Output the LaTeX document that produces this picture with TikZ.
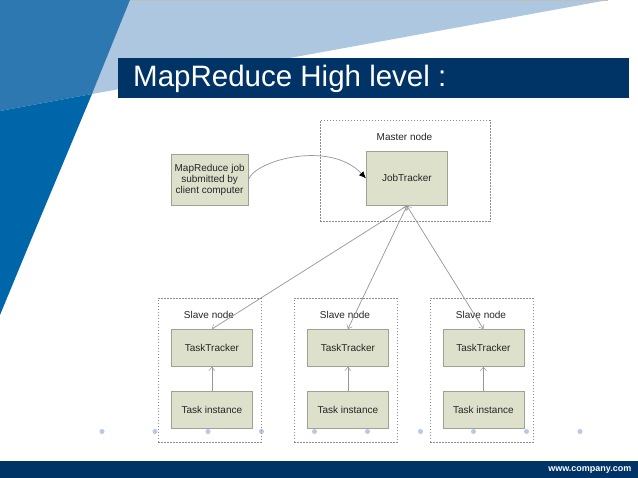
\documentclass[tikz,border=0pt]{standalone}
\usepackage{fontspec}
\setmainfont{Liberation Sans}
\usetikzlibrary{arrows.meta,calc}
\definecolor{navy}{RGB}{0,51,102}
\definecolor{boxfill}{RGB}{221,224,203}
\definecolor{boxline}{RGB}{160,163,145}
\definecolor{wirec}{RGB}{150,150,150}
\definecolor{pale}{RGB}{174,199,224}
\definecolor{midblue}{RGB}{46,120,178}
\definecolor{deepblue}{RGB}{0,102,170}
\definecolor{dotc}{RGB}{182,201,234}
\tikzset{
  x=1pt,y=-1pt,
  procbox/.style={draw=boxline,fill=boxfill,line width=0.8pt,inner sep=0pt,align=center,font=\fontsize{10}{11.5}\selectfont,text=black!85},
  dashbox/.style={draw=black!45,dash pattern=on 1.5pt off 1.5pt,line width=0.6pt},
  lbl/.style={inner sep=0pt,font=\fontsize{10}{12}\selectfont,text=black!85},
  wire/.style={draw=wirec,line width=0.7pt,{Straight Barb[length=3.5pt,width=6pt,line width=0.5pt]}-{Straight Barb[length=3.5pt,width=6pt,line width=0.5pt]}},
  upwire/.style={draw=wirec,line width=0.7pt,-{Straight Barb[length=3.5pt,width=6pt,line width=0.5pt]}},
  dotm/.style={circle,fill=dotc,inner sep=0pt,minimum size=5pt}
}
\newcommand{\boxat}[5][procbox]{\node[#1,minimum width=#4pt,minimum height=#5pt,anchor=north west] at (#2,#3)}
\begin{document}
\begin{tikzpicture}
\useasboundingbox (0,0) rectangle (638,478);
\fill[white] (0,0) rectangle (638,478);
% background shapes
\fill[pale] (130,0) -- (608,0) -- (92,94) -- cycle;
\draw[black!25,line width=0.6pt] (130,0.3) -- (608,0.3);
\fill[midblue] (0,0) -- (130,0) -- (92,94) -- (0,111) -- cycle;
\fill[deepblue] (0,111) -- (92,94) -- (31,240) -- (0,315) -- cycle;
% title
\fill[navy] (118,58.5) rectangle (628.5,98.5);
\node[anchor=west,inner sep=0pt,text=white,font=\fontsize{29.5}{32}\selectfont] (title) at (133,79) {MapReduce High level :};
% footer
\fill[navy] (0,461) rectangle (638,478);
\node[anchor=east,inner sep=0pt,text=white,font=\fontsize{9}{10}\selectfont\bfseries] (url) at (631.5,470) {www.company.com};
% dots
\foreach \x [count=\i] in {102,155,208,261.5,314.5,367.5,420.5,473.5,526.5,580}
  \node[dotm] (d\i) at (\x,431.5) {};
% groups
\node[dashbox,minimum width=169.5pt,minimum height=101pt,anchor=north west] (master) at (320,120) {};
\node[dashbox,minimum width=102.5pt,minimum height=144.5pt,anchor=north west] (s1) at (158,298) {};
\node[dashbox,minimum width=102.5pt,minimum height=144.5pt,anchor=north west] (s2) at (294,298) {};
\node[dashbox,minimum width=102.5pt,minimum height=144.5pt,anchor=north west] (s3) at (430,298) {};
% labels
\node[lbl] (ml) at (404.5,136.5) {Master node};
\node[lbl] (l1) at (209,315) {Slave node};
\node[lbl] (l2) at (345,315) {Slave node};
\node[lbl] (l3) at (481,315) {Slave node};
% boxes
\boxat{171}{154}{76.5}{51} (client) {MapReduce job\\[-0.5pt]submitted by\\[-0.5pt]client computer};
\boxat{366}{151}{81}{54} (jt) {JobTracker};
\boxat{171}{329}{81}{37} (tt1) {TaskTracker};
\boxat{307}{329}{81}{37} (tt2) {TaskTracker};
\boxat{442.5}{329}{81}{37} (tt3) {TaskTracker};
\boxat{171}{391}{81}{37} (ti1) {Task instance};
\boxat{307}{391}{81}{37} (ti2) {Task instance};
\boxat{442.5}{391}{81}{37} (ti3) {Task instance};
% connectors
\draw[wirec,line width=0.7pt,-{Latex[length=7pt,width=6pt,black]}] (client.east) .. controls (255,160) and (330,140) .. (jt.west);
\draw[wire] (jt.south) -- (tt1.north);
\draw[wire] (jt.south) -- (tt2.north);
\draw[wire] (jt.south) -- (tt3.north);
\draw[upwire] (ti1.north) -- (tt1.south);
\draw[upwire] (ti2.north) -- (tt2.south);
\draw[upwire] (ti3.north) -- (tt3.south);
\end{tikzpicture}
\end{document}
